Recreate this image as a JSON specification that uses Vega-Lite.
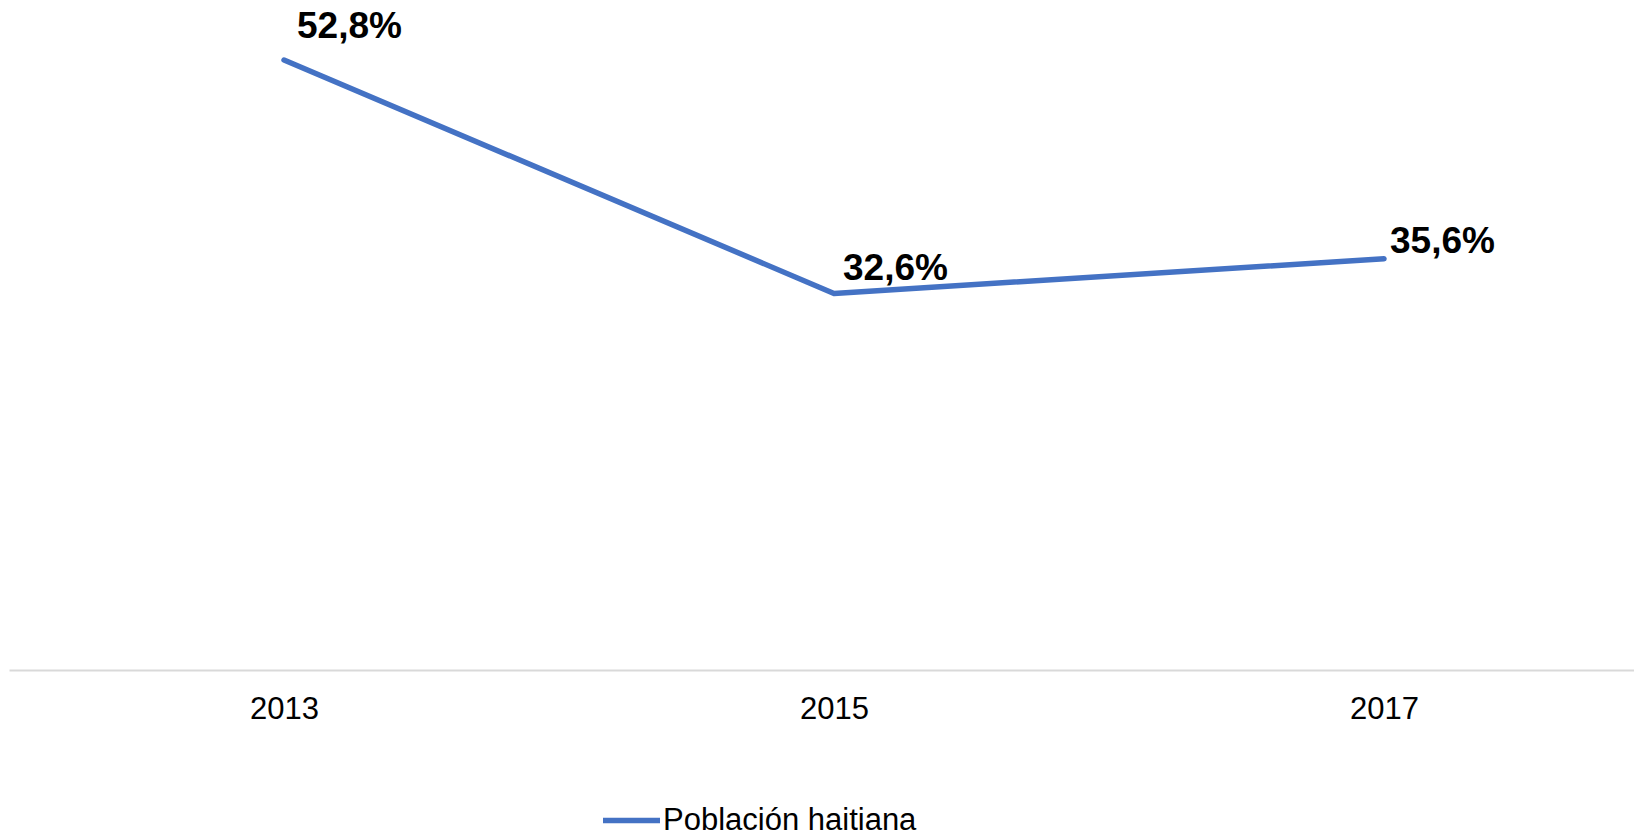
{
  "$schema": "https://vega.github.io/schema/vega-lite/v6.json",
  "autosize": "none",
  "width": 1650,
  "height": 670,
  "padding": {"left": 9, "top": 0, "right": 0, "bottom": 165},
  "background": "white",
  "config": {
    "view": {"stroke": null},
    "font": "Liberation Sans"
  },
  "data": {
    "values": [
      {"year": "2013", "value": 52.8, "label": "52,8%", "serie": "Población haitiana"},
      {"year": "2015", "value": 32.6, "label": "32,6%", "serie": "Población haitiana"},
      {"year": "2017", "value": 35.6, "label": "35,6%", "serie": "Población haitiana"}
    ]
  },
  "encoding": {
    "x": {
      "field": "year", "type": "nominal",
      "scale": {"paddingInner": 0, "paddingOuter": 0},
      "axis": {
        "title": null, "labelAngle": 0, "ticks": false,
        "domainColor": "#d9d9d9", "domainWidth": 2,
        "labelFont": "Liberation Sans", "labelFontSize": 31, "labelColor": "#000000",
        "labelPadding": 24, "grid": false
      }
    },
    "y": {
      "field": "value", "type": "quantitative",
      "scale": {"domain": [0, 58], "nice": false, "zero": true},
      "axis": null
    }
  },
  "layer": [
    {
      "mark": {"type": "line", "strokeWidth": 5.5, "strokeCap": "round", "strokeJoin": "round"},
      "encoding": {
        "color": {
          "field": "serie", "type": "nominal",
          "scale": {"range": ["#4472C4"]},
          "legend": {
            "title": null, "orient": "none", "legendX": 591, "legendY": 789,
            "symbolType": "stroke", "symbolSize": 3249, "symbolStrokeWidth": 5.5,
            "symbolStrokeColor": "#4472C4", "symbolOpacity": 1,
            "labelFont": "Liberation Sans", "labelFontSize": 31, "labelColor": "#000000",
            "labelOffset": 0, "labelLimit": 500
          }
        }
      }
    },
    {
      "transform": [{"filter": "datum.year === '2013'"}],
      "mark": {"type": "text", "align": "left", "baseline": "alphabetic", "dx": 13, "dy": -22, "fontSize": 37, "fontWeight": "bold", "font": "Liberation Sans", "color": "#000000"},
      "encoding": {"text": {"field": "label"}}
    },
    {
      "transform": [{"filter": "datum.year === '2015'"}],
      "mark": {"type": "text", "align": "left", "baseline": "alphabetic", "dx": 9, "dy": -13, "fontSize": 37, "fontWeight": "bold", "font": "Liberation Sans", "color": "#000000"},
      "encoding": {"text": {"field": "label"}}
    },
    {
      "transform": [{"filter": "datum.year === '2017'"}],
      "mark": {"type": "text", "align": "left", "baseline": "alphabetic", "dx": 6, "dy": -6, "fontSize": 37, "fontWeight": "bold", "font": "Liberation Sans", "color": "#000000"},
      "encoding": {"text": {"field": "label"}}
    }
  ]
}
